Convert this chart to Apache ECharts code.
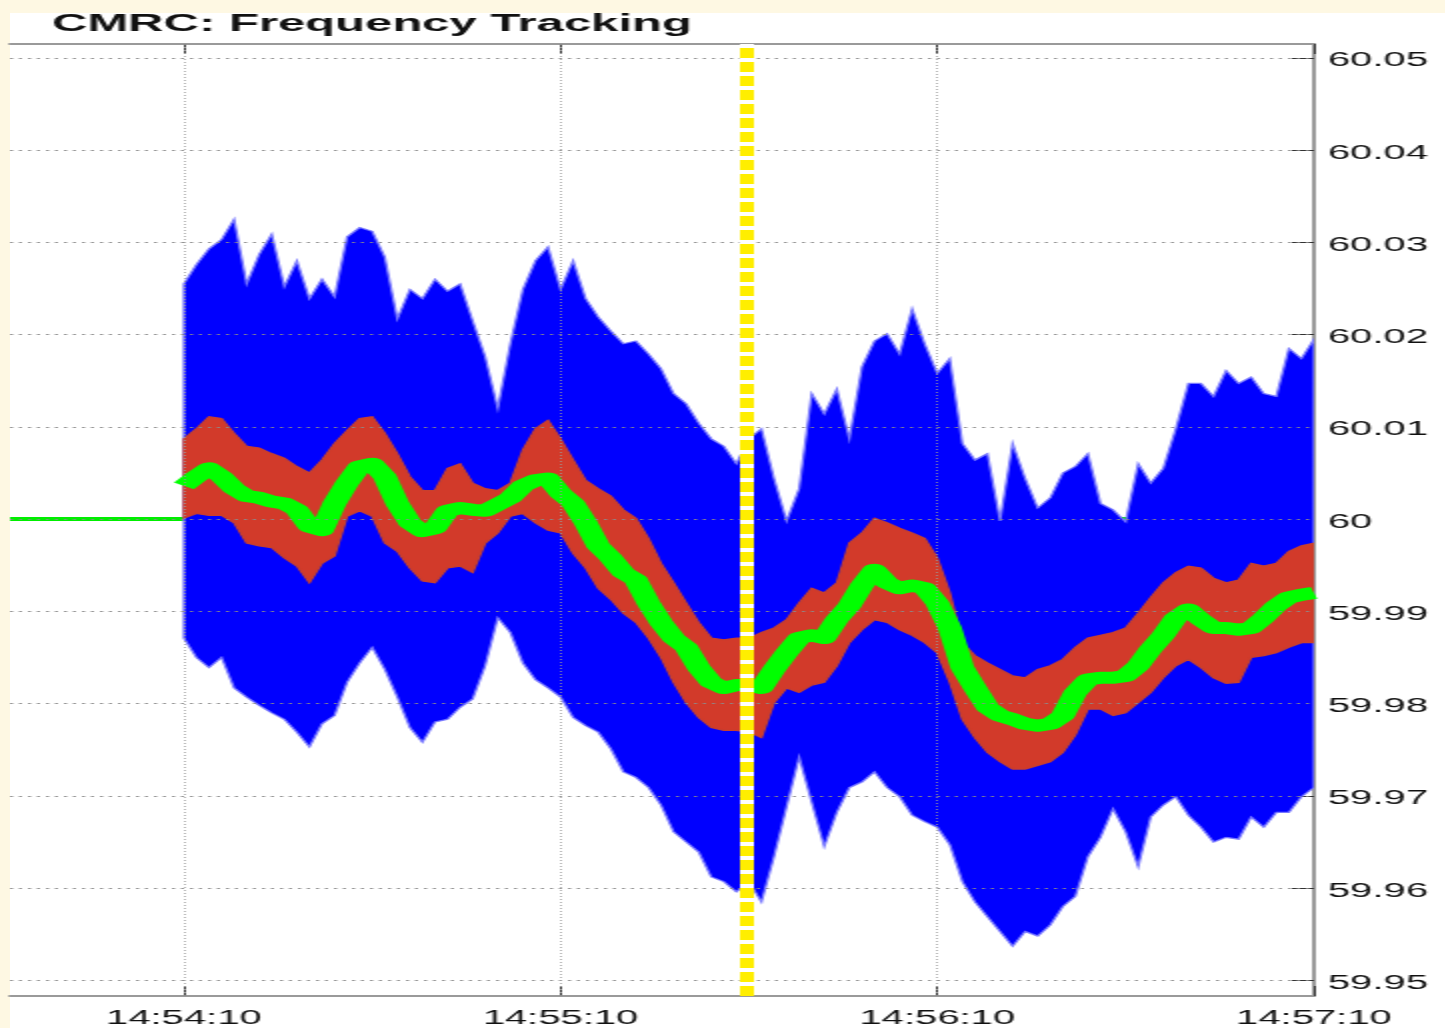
<!DOCTYPE html>
<html>
<head>
<meta charset="utf-8">
<title>CMRC: Frequency Tracking</title>
<script src="https://cdn.jsdelivr.net/npm/echarts@6/dist/echarts.min.js"></script>
<style>
  html, body { margin: 0; padding: 0; width: 1445px; height: 1028px; overflow: hidden; background: #fef8e3; }
  #panel { position: absolute; left: 10px; top: 13px; width: 1435px; height: 1015px; background: #ffffff; }
  /* the chart is laid out at half width and stretched horizontally */
  #chart { position: absolute; left: 0; top: 0; width: 722.5px; height: 1028px; transform: scaleX(2); transform-origin: 0 0; }
</style>
</head>
<body>
<div id="panel"></div>
<div id="chart"></div>
<script>
// Sample times, seconds after 14:54:10
const seconds = [0,2,4,6,8,10,12,14,16,18,20,22,24,26,28,30,32,34,36,38,40,42,44,46,48,50,52,54,56,58,
  60,62,64,66,68,70,72,74,76,78,80,82,84,86,88,90,92,94,96,98,100,102,104,106,108,110,112,114,116,118,
  120,122,124,126,128,130,132,134,136,138,140,142,144,146,148,150,152,154,156,158,160,162,164,166,168,170,
  172,174,176,178,180];

// Raw measured frequency envelope (Hz)
const blueHigh = [60.0255,60.0276,60.0293,60.0303,60.0325,60.0255,60.0287,60.0309,60.0252,60.0280,
  60.0239,60.0260,60.0241,60.0306,60.0316,60.0312,60.0284,60.0217,60.0249,60.0239,
  60.0260,60.0247,60.0255,60.0215,60.0176,60.0120,60.0190,60.0249,60.0280,60.0295,
  60.0249,60.0280,60.0239,60.0219,60.0204,60.0190,60.0193,60.0179,60.0163,60.0136,
  60.0125,60.0104,60.0087,60.0079,60.0060,60.0087,60.0098,60.0044,59.9998,60.0033,
  60.0136,60.0114,60.0141,60.0087,60.0165,60.0193,60.0201,60.0179,60.0228,60.0190,
  60.0158,60.0174,60.0082,60.0064,60.0071,59.9998,60.0082,60.0044,60.0012,60.0023,
  60.0050,60.0057,60.0071,60.0017,60.0010,59.9997,60.0060,60.0039,60.0055,60.0098,
  60.0147,60.0147,60.0133,60.0161,60.0147,60.0154,60.0136,60.0133,60.0185,60.0174,
  60.0195];
const blueLow = [59.9871,59.9850,59.9839,59.9850,59.9817,59.9807,59.9798,59.9790,59.9783,59.9769,
  59.9753,59.9778,59.9787,59.9823,59.9844,59.9861,59.9837,59.9807,59.9774,59.9758,
  59.9780,59.9783,59.9796,59.9805,59.9841,59.9893,59.9877,59.9844,59.9826,59.9817,
  59.9807,59.9785,59.9776,59.9769,59.9751,59.9726,59.9720,59.9709,59.9690,59.9661,
  59.9650,59.9639,59.9612,59.9607,59.9596,59.9607,59.9585,59.9634,59.9688,59.9742,
  59.9693,59.9645,59.9682,59.9709,59.9715,59.9726,59.9709,59.9699,59.9679,59.9672,
  59.9666,59.9647,59.9607,59.9585,59.9569,59.9553,59.9537,59.9553,59.9548,59.9560,
  59.9580,59.9591,59.9634,59.9655,59.9686,59.9661,59.9623,59.9677,59.9690,59.9699,
  59.9679,59.9666,59.9650,59.9655,59.9653,59.9677,59.9666,59.9682,59.9682,59.9699,
  59.9709];

// Filtered frequency envelope (Hz)
const redHigh = [60.0087,60.0098,60.0111,60.0109,60.0093,60.0079,60.0077,60.0071,60.0066,60.0057,
  60.0050,60.0064,60.0082,60.0096,60.0109,60.0111,60.0093,60.0071,60.0046,60.0031,
  60.0031,60.0055,60.0060,60.0039,60.0033,60.0031,60.0039,60.0075,60.0098,60.0107,
  60.0087,60.0064,60.0042,60.0033,60.0025,60.0010,60.0001,59.9979,59.9952,59.9931,
  59.9909,59.9888,59.9871,59.9869,59.9871,59.9871,59.9877,59.9882,59.9891,59.9909,
  59.9925,59.9920,59.9931,59.9974,59.9985,60.0001,59.9996,59.9990,59.9985,59.9979,
  59.9958,59.9920,59.9866,59.9852,59.9844,59.9837,59.9830,59.9828,59.9837,59.9841,
  59.9848,59.9861,59.9871,59.9874,59.9877,59.9882,59.9898,59.9915,59.9931,59.9942,
  59.9949,59.9947,59.9936,59.9931,59.9934,59.9952,59.9949,59.9952,59.9965,59.9971,
  59.9974];
const redLow = [60.0001,60.0006,60.0004,60.0004,59.9996,59.9974,59.9971,59.9969,59.9958,59.9949,
  59.9931,59.9952,59.9960,60.0003,60.0009,60.0003,59.9974,59.9965,59.9947,59.9933,
  59.9931,59.9947,59.9949,59.9942,59.9974,59.9985,60.0003,60.0006,59.9996,59.9988,
  59.9985,59.9963,59.9947,59.9925,59.9913,59.9898,59.9888,59.9871,59.9850,59.9823,
  59.9801,59.9785,59.9774,59.9771,59.9771,59.9769,59.9763,59.9801,59.9817,59.9812,
  59.9820,59.9823,59.9841,59.9866,59.9880,59.9891,59.9888,59.9880,59.9874,59.9866,
  59.9855,59.9823,59.9783,59.9763,59.9747,59.9737,59.9729,59.9729,59.9733,59.9737,
  59.9747,59.9766,59.9794,59.9794,59.9787,59.9790,59.9801,59.9812,59.9828,59.9841,
  59.9848,59.9839,59.9828,59.9822,59.9823,59.9850,59.9852,59.9855,59.9861,59.9866,
  59.9866];

// Tracked frequency (Hz)
const tracked = [60.0036,60.0046,60.0055,60.0046,60.0033,60.0025,60.0023,60.0019,60.0017,60.0010,
  59.9992,59.9988,60.0017,60.0039,60.0057,60.0060,60.0046,60.0017,59.9996,59.9987,
  59.9990,60.0009,60.0012,60.0010,60.0009,60.0016,60.0023,60.0036,60.0042,60.0044,
  60.0028,60.0017,59.9996,59.9971,59.9958,59.9942,59.9934,59.9909,59.9888,59.9871,
  59.9861,59.9839,59.9823,59.9817,59.9820,59.9820,59.9817,59.9837,59.9855,59.9871,
  59.9874,59.9871,59.9891,59.9906,59.9928,59.9945,59.9931,59.9925,59.9928,59.9925,
  59.9909,59.9882,59.9839,59.9817,59.9796,59.9787,59.9783,59.9778,59.9776,59.9778,
  59.9787,59.9812,59.9826,59.9828,59.9828,59.9830,59.9841,59.9859,59.9874,59.9893,
  59.9902,59.9891,59.9882,59.9882,59.9880,59.9882,59.9893,59.9906,59.9915,59.9918,
  59.9920];

const nominalFreq = 60;
const xStart = -27.7;          // left edge of the time window (s)
const xEnd = 180;
const yMin = 59.9483;
const yMax = 60.0515;
const xTicks = [0, 60, 120, 180];
const yTicks = [59.95, 59.96, 59.97, 59.98, 59.99, 60, 60.01, 60.02, 60.03, 60.04, 60.05];
const markerTime = 89.6;       // event marker (s)
const startClock = 14 * 3600 + 54 * 60 + 10;

function clockLabel(v) {
  const s = Math.round(startClock + v);
  const hh = Math.floor(s / 3600), mm = Math.floor((s % 3600) / 60), ss = s % 60;
  const p = n => (n < 10 ? '0' : '') + n;
  return hh + ':' + p(mm) + ':' + p(ss);
}
function freqLabel(v) { return String(Number(v.toFixed(2))); }

const pairs = arr => seconds.map((t, i) => [t, arr[i]]);

// filled band between two envelopes, drawn through the chart's own coordinate mapping
function bandSeries(name, hi, lo, fill, edge, z) {
  return {
    name, type: 'custom', z, silent: true, clip: true,
    data: [[seconds[0], lo[0]]],
    renderItem(params, api) {
      const top = seconds.map((t, i) => api.coord([t, hi[i]]));
      const bottom = seconds.map((t, i) => api.coord([t, lo[i]])).reverse();
      return {
        type: 'polygon',
        shape: { points: top.concat(bottom) },
        style: { fill, stroke: edge, lineWidth: 1.2 }
      };
    }
  };
}

const FONT = "'Liberation Sans', Arial, sans-serif";
const chart = echarts.init(document.getElementById('chart'), null, { renderer: 'canvas' });

const frameLine = () => ({ color: '#9a9a9a', width: 2 });
const tickLine = () => ({ color: '#333333', width: 1 });

chart.setOption({
  animation: false,
  backgroundColor: 'transparent',
  title: {
    text: 'CMRC: Frequency Tracking',
    left: 26, top: 12, padding: 0,
    textStyle: { fontFamily: FONT, fontSize: 24.5, fontWeight: 'bold', color: '#111' }
  },
  grid: { left: 5, right: 66, top: 44, bottom: 28, containLabel: false },
  xAxis: [{
    type: 'value', position: 'bottom', min: xStart, max: xEnd,
    axisLine: { show: true, onZero: false, lineStyle: frameLine() },
    axisTick: { show: true, inside: true, length: 10, customValues: xTicks, lineStyle: tickLine() },
    axisLabel: { show: true, customValues: xTicks, formatter: clockLabel, fontFamily: FONT, fontSize: 20, color: '#111', margin: 12 },
    splitLine: { show: false }
  }, {
    type: 'value', position: 'top', min: xStart, max: xEnd,
    axisLine: { show: true, onZero: false, lineStyle: frameLine() },
    axisTick: { show: true, inside: true, length: 10, customValues: xTicks, lineStyle: tickLine() },
    axisLabel: { show: false },
    splitLine: { show: false }
  }],
  yAxis: {
    type: 'value', position: 'right', min: yMin, max: yMax,
    axisLine: { show: true, onZero: false, lineStyle: frameLine() },
    axisTick: { show: true, inside: true, length: 11, customValues: yTicks, lineStyle: tickLine() },
    axisLabel: { show: true, customValues: yTicks, formatter: freqLabel, fontFamily: FONT, fontSize: 20, color: '#111', margin: 7, verticalAlign: 'top', lineHeight: 20, padding: [-7, 0, 0, 0] },
    splitLine: { show: false }
  },
  series: [
    { // dotted grid
      name: 'grid', type: 'line', data: [], z: 0, silent: true,
      markLine: {
        silent: true, symbol: ['none', 'none'], label: { show: false }, animation: false,
        data: yTicks.map(v => ({ yAxis: v, lineStyle: { color: '#8c8c8c', width: 1, type: [1.5, 3] } }))
          .concat(xTicks.slice(0, 3).map(v => ({ xAxis: v, lineStyle: { color: '#9a9a9a', width: 0.8, type: [1, 2] } })))
      }
    },
    { // nominal 60 Hz reference
      name: 'nominal', type: 'line', z: 1, symbol: 'none', silent: true,
      data: [[xStart, nominalFreq], [xEnd, nominalFreq]],
      lineStyle: { color: '#00ee00', width: 4 }
    },
    bandSeries('raw', blueHigh, blueLow, '#0000ff', '#7878ff', 2),
    bandSeries('filtered', redHigh, redLow, '#d23a2a', '#c8402e', 3),
    {
      name: 'tracked', type: 'line', z: 4, symbol: 'none', silent: true,
      data: pairs(tracked),
      lineStyle: { color: '#00ff00', width: 12, cap: 'butt', join: 'round' }
    },
    { // event marker
      name: 'marker', type: 'line', data: [], z: 6, silent: true,
      markLine: {
        silent: true, symbol: ['none', 'none'], label: { show: false }, animation: false,
        data: [
          { xAxis: markerTime, lineStyle: { color: '#ffffff', width: 7, type: 'solid' } },
          { xAxis: markerTime, lineStyle: { color: '#ffee00', width: 7, type: [10, 4] } }
        ]
      }
    }
  ]
});
</script>
</body>
</html>
